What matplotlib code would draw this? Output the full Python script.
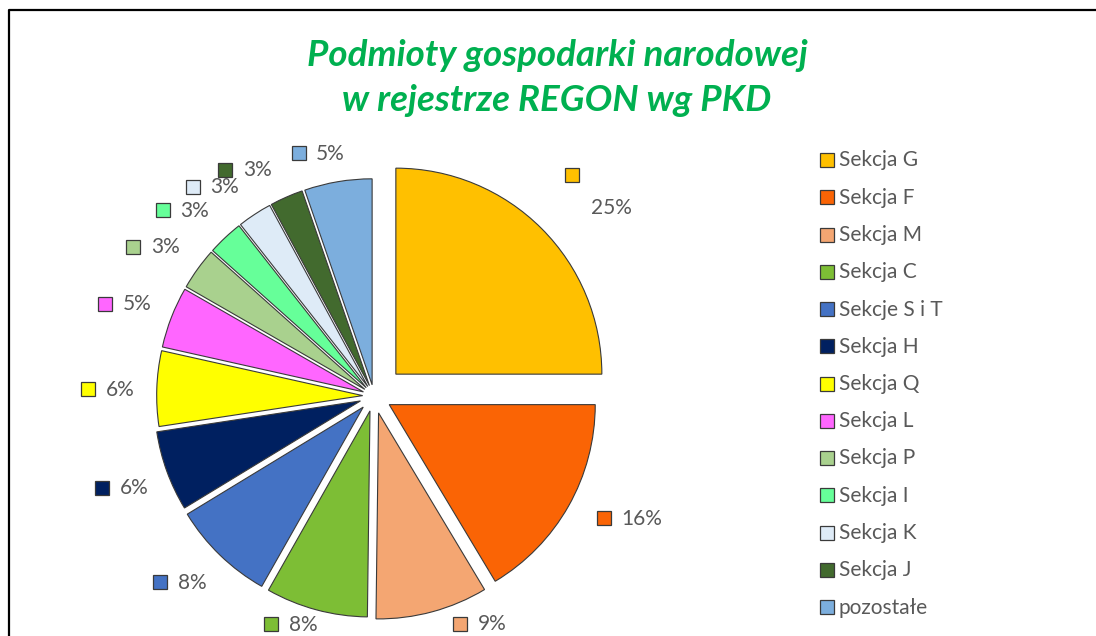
import numpy as np
import matplotlib
matplotlib.use("Agg")
from matplotlib import pyplot as plt
from matplotlib.lines import Line2D

plt.rcParams['font.family'] = ['Lato', 'DejaVu Sans']

# shares (percent)
sections = ['Sekcja G', 'Sekcja F', 'Sekcja M', 'Sekcja C', 'Sekcje S i T', 'Sekcja H',
            'Sekcja Q', 'Sekcja L', 'Sekcja P', 'Sekcja I', 'Sekcja K', 'Sekcja J', 'pozostałe']
shares = [25.0, 16.4, 8.8, 8.0, 8.1, 6.3, 5.9, 4.8, 3.3, 2.8, 2.7, 2.6, 5.3]
colors = ['#FFC000', '#FA6405', '#F4A672', '#7DBE35', '#4472C4', '#002060',
          '#FFFF00', '#FF66FF', '#A9D18E', '#66FF99', '#DEEBF7', '#426A2E', '#7CAEDD']
explode = [0.15, 0.085, 0.085, 0.075, 0.075, 0.07, 0.055, 0.055, 0.055, 0.055, 0.055, 0.055, 0.055]
# where each data label block sits: distance (pie radii) and angle tweak (deg)
label_dist = [1.48, 1.377, 1.22, 1.178, 1.305, 1.30, 1.292, 1.289, 1.294, 1.294, 1.281, 1.263, 1.209]
label_shift = [-2.8, 4.0, 9.8, -4.9, -2.1, 0.0, 0.5, 0.9, 1.8, 2.6, 4.3, 5.9, 3.3]

W, H = 1096, 636
cx, cy, R = 374, H - 396, 206   # pie centre and radius in pixels
grey = '#595959'
edge = '#3a3a3a'

fig = plt.figure(figsize=(W / 100, H / 100), dpi=100)
ax = fig.add_axes([0, 0, 1, 1])

wedges, _ = ax.pie(shares, colors=colors, explode=explode, startangle=90,
                   counterclock=False, radius=1,
                   wedgeprops=dict(edgecolor=edge, linewidth=0.8))
ax.set_aspect('auto')
ax.set_xlim(-cx / R, (W - cx) / R)
ax.set_ylim(-cy / R, (H - cy) / R)
ax.axis('off')

px = 1.0 / R   # one pixel in data units
renderer = fig.canvas.get_renderer()

def square(x, y, color):
    ax.plot([x], [y], marker='s', markersize=9.5, markerfacecolor=color,
            markeredgecolor=edge, markeredgewidth=0.9, linestyle='none', clip_on=False)

# data labels: legend key + percentage, placed outside each slice
for i, w in enumerate(wedges):
    theta = np.deg2rad((w.theta1 + w.theta2) / 2 + label_shift[i])
    bx = label_dist[i] * np.cos(theta)
    by = label_dist[i] * np.sin(theta)
    txt = '%d%%' % round(shares[i])
    t = ax.text(0, 0, txt, fontsize=15, color=grey, ha='left', va='baseline')
    tw = t.get_window_extent(renderer).width * px
    if i == 0:
        # wrapped label: key on the first line, value below
        square(bx - 28 * px, by + 16 * px, colors[i])
        t.set_position((bx + 12 * px - tw / 2, by - 16 * px - 7 * px))
    else:
        left = bx - (24 * px + tw) / 2
        square(left + 6.5 * px, by, colors[i])
        t.set_position((left + 24 * px, by - 6.5 * px))

# legend on the right
for i, name in enumerate(sections):
    yy = H - (160 + i * 37.25)
    fig.lines.append(Line2D([826.5 / W], [yy / H], marker='s', markersize=9.5,
                            markerfacecolor=colors[i], markeredgecolor=edge,
                            markeredgewidth=0.9, linestyle='none',
                            transform=fig.transFigure))
    fig.text(839 / W, (yy - 6.5) / H, name, fontsize=15, color=grey,
             ha='left', va='baseline')

# title
title_kw = dict(fontsize=26.5, color='#00B050', fontweight='bold', fontstyle='italic',
                ha='center', va='baseline')
fig.text(557 / W, (H - 66) / H, 'Podmioty gospodarki narodowej', **title_kw)
fig.text(557 / W, (H - 111) / H, 'w rejestrze REGON wg PKD', **title_kw)

# chart area border (left and top edges visible)
fig.lines.append(Line2D([8.5 / W, 8.5 / W, 1.0], [0, (H - 10) / H, (H - 10) / H],
                        color='black', linewidth=1.6, transform=fig.transFigure))

fig.savefig('out.png', dpi=100)
